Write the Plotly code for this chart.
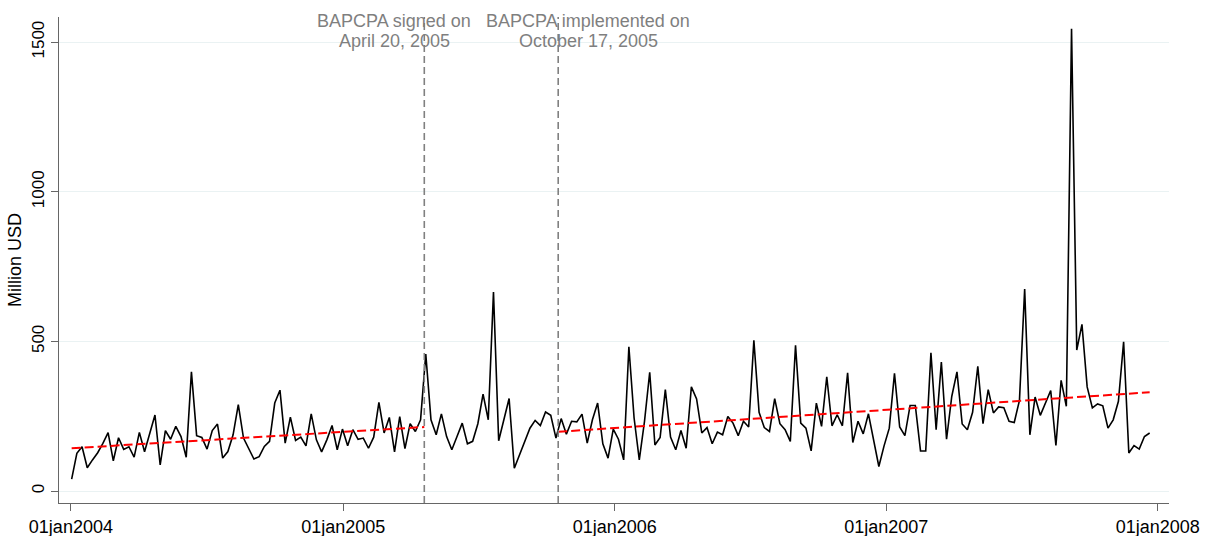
import pandas as pd
import plotly.graph_objects as go

# Weekly series (Million USD), first observation 2004-01-02
start_date = "2004-01-02"
values = [
    40, 126, 148, 78, 104, 128, 159, 195, 101, 178, 139, 148, 113, 196, 131, 194, 254, 87, 202, 173,
    216, 182, 113, 398, 185, 179, 140, 202, 224, 110, 132, 188, 289,
    177, 143, 107, 115, 149, 166, 294, 337, 160, 247, 169, 180, 151, 258, 171, 131, 171, 219, 138,
    207, 151, 205, 173, 177, 143, 180, 296, 194, 246, 131, 249, 142, 225, 199, 238, 458,
    238, 188, 258, 182, 138, 182, 227, 158, 166, 225, 324, 238, 665, 168, 238, 309, 76, 119, 163,
    210, 236, 219, 264, 253, 177, 242, 190, 233, 231, 257, 160, 238, 294, 158, 110,
    207, 173, 104, 482, 244, 104, 233, 397, 154, 179, 339, 180, 138, 202, 143, 348, 308, 194, 212,
    158, 197, 188, 249, 227, 185, 233, 214, 504, 263, 212, 199, 309, 225,
    205, 166, 487, 227, 210, 134, 294, 216, 382, 218, 255, 218, 395, 162, 233, 191, 258, 171, 82,
    151, 210, 393, 214, 185, 286, 286, 134, 134, 462, 205, 431, 173, 316, 398, 224, 205,
    263, 417, 225, 339, 261, 281, 278, 233, 229, 303, 675, 188, 314, 253, 294, 336, 152, 370, 283,
    1545, 471, 557, 348, 278, 291, 285, 210, 238, 300, 499, 127, 152, 140, 182, 194,
]
dates = pd.date_range(start_date, periods=len(values), freq="7D")

# Linear trends before signing and after implementation
trend_pre_dates = ["2004-01-02", "2005-04-20"]
trend_pre_values = [143, 214]
trend_post_dates = ["2005-10-17", "2007-12-21"]
trend_post_values = [198, 330]

event_dates = ["2005-04-20", "2005-10-17"]
event_line1 = ["BAPCPA signed on", "BAPCPA implemented on"]
event_line2 = ["April 20, 2005", "October 17, 2005"]
event_shift = [-30, 30]

tick_dates = ["2004-01-01", "2005-01-01", "2006-01-01", "2007-01-01", "2008-01-01"]
tick_labels = ["01jan2004", "01jan2005", "01jan2006", "01jan2007", "01jan2008"]
y_ticks = [0, 500, 1000, 1500]

FONT = "Liberation Sans, Arial, Helvetica, sans-serif"

fig = go.Figure()
fig.add_trace(go.Scatter(x=dates, y=values, mode="lines",
                         line=dict(color="black", width=1.6), showlegend=False))
fig.add_trace(go.Scatter(x=trend_pre_dates, y=trend_pre_values, mode="lines",
                         line=dict(color="#ff0000", width=2, dash="9px,4px"), showlegend=False))
fig.add_trace(go.Scatter(x=trend_post_dates, y=trend_post_values, mode="lines",
                         line=dict(color="#ff0000", width=2, dash="9px,4px"), showlegend=False))

for d, l1, l2, s in zip(event_dates, event_line1, event_line2, event_shift):
    fig.add_shape(type="line", xref="x", yref="paper", x0=d, x1=d, y0=0, y1=1.0,
                  line=dict(color="#808080", width=1.6, dash="7px,4px"), layer="above")
    fig.add_annotation(x=d, xref="x", y=0.992, yref="paper", text=l1, showarrow=False,
                       xanchor="center", yanchor="middle", xshift=s,
                       font=dict(family=FONT, size=18, color="#7f7f7f"))
    fig.add_annotation(x=d, xref="x", y=0.950, yref="paper", text=l2, showarrow=False,
                       xanchor="center", yanchor="middle", xshift=s,
                       font=dict(family=FONT, size=18, color="#7f7f7f"))

fig.update_layout(
    width=1211, height=536, autosize=False,
    margin=dict(l=59, r=42, t=17, b=33),
    paper_bgcolor="white", plot_bgcolor="white",
    font=dict(family=FONT, color="black"),
    xaxis=dict(type="date", range=["2003-12-16", "2008-01-16"], automargin=False,
               tickvals=tick_dates, ticktext=tick_labels,
               tickfont=dict(size=18, color="black"),
               showline=True, linecolor="#666666", linewidth=1.2,
               ticks="outside", ticklen=7, tickcolor="#666666", tickwidth=1.2,
               showgrid=False, zeroline=False),
    yaxis=dict(range=[-40, 1584], tickvals=y_ticks, ticktext=[str(v) for v in y_ticks],
               automargin=False,
               tickangle=-90, tickfont=dict(size=17, color="black"),
               showline=True, linecolor="#666666", linewidth=1.2,
               ticks="outside", ticklen=7, tickcolor="#666666", tickwidth=1.2,
               showgrid=True, gridcolor="#eaf2f3", gridwidth=1.2, zeroline=False,
               title=dict(text="Million USD", font=dict(size=18, color="black"), standoff=2)),
)

fig.write_html("out.html")
